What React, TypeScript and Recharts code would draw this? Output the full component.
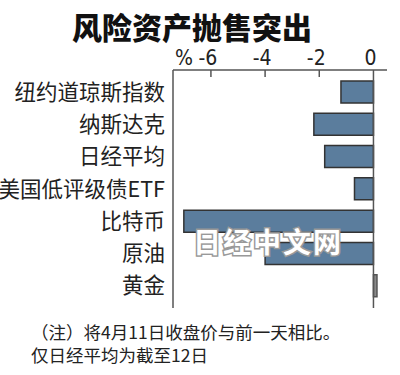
import React from "react";
import {
  BarChart,
  Bar,
  XAxis,
  YAxis,
  Cell,
  ReferenceLine,
} from "recharts";

// % change, close on Apr 11 vs previous day (Nikkei: Apr 12)
const assets = [
  "纽约道琼斯指数",
  "纳斯达克",
  "日经平均",
  "美国低评级债ETF",
  "比特币",
  "原油",
  "黄金",
];
const changes = [-1.2, -2.2, -1.8, -0.7, -7.0, -4.0, 0.13];
const xTicks = [-6, -4, -2, 0];

const title = "风险资产抛售突出";
const notes = ["（注）将4月11日收盘价与前一天相比。", "仅日经平均为截至12日"];
const watermark = "日经中文网";

const data = assets.map((name, i) => ({ name, value: changes[i] }));

const CJK = "'Noto Sans CJK SC', 'Noto Sans', sans-serif";
const NUM = "'Liberation Sans Narrow', 'DejaVu Sans Condensed', 'Liberation Sans', sans-serif";
const BLUE = "#5b7d9d";
const GREY = "#8a8a8a";

function TopTick(props: any) {
  const { x, y, payload, index } = props;
  const v = payload.value;
  return (
    <g>
      {v !== 0 && <line x1={x} y1={y} x2={x} y2={y + 7} stroke="#555" strokeWidth={1.5} />}
      <text x={x - 3} y={y - 5} textAnchor="middle" fontSize={21} fontFamily={NUM} fill="#222">
        {v}
      </text>
      {index === 0 && (
        <text x={x - 18} y={y - 5} textAnchor="end" fontSize={21} fontFamily={NUM} fill="#222">
          %
        </text>
      )}
    </g>
  );
}

function NameTick(props: any) {
  const { x, y, payload } = props;
  return (
    <text
      x={x}
      y={y - 2}
      textAnchor="end"
      dominantBaseline="central"
      fontSize={21.5}
      fontFamily={CJK}
      fill="#222"
    >
      {payload.value}
    </text>
  );
}

export default function App() {
  return (
    <div
      style={{
        position: "absolute",
        left: 0,
        top: 0,
        width: 400,
        height: 375,
        background: "#fff",
      }}
    >
      <BarChart
        width={400}
        height={375}
        data={data}
        layout="vertical"
        margin={{ top: 40, right: 13, bottom: 67, left: 0 }}
      >
        <XAxis
          type="number"
          orientation="top"
          domain={[-7.4, 0.5]}
          ticks={xTicks}
          height={30}
          axisLine={{ stroke: "#555", strokeWidth: 1.5 }}
          tickLine={false}
          tickSize={0}
          tickMargin={0}
          tick={<TopTick />}
          interval={0}
        />
        <YAxis
          type="category"
          dataKey="name"
          width={173}
          axisLine={{ stroke: "#555", strokeWidth: 1.5 }}
          tickLine={false}
          tickSize={0}
          tickMargin={8}
          padding={{ top: 6, bottom: 6 }}
          tick={<NameTick />}
          interval={0}
        />
        <Bar dataKey="value" barSize={22} isAnimationActive={false}>
          {data.map((d, i) => (
            <Cell
              key={i}
              fill={d.value < 0 ? BLUE : GREY}
              stroke={d.value < 0 ? "#333" : "#555"}
              strokeWidth={1.5}
            />
          ))}
        </Bar>
        <ReferenceLine x={0} stroke="#555" strokeWidth={1.5} ifOverflow="extendDomain" />
      </BarChart>
      <svg
        width={400}
        height={375}
        style={{ position: "absolute", left: 0, top: 0, pointerEvents: "none" }}
      >
        <text
          x={192}
          y={39}
          textAnchor="middle"
          fontSize={30}
          fontWeight={900}
          fontFamily={CJK}
          fill="#111"
        >
          {title}
        </text>
        <text
          x={268}
          y={253}
          textAnchor="middle"
          fontSize={28}
          fontWeight={700}
          fontFamily={CJK}
          fill="#fff"
          stroke="#999"
          strokeWidth={3}
          paintOrder="stroke"
          letterSpacing={2}
        >
          {watermark}
        </text>
        {notes.map((t, i) => (
          <text
            key={i}
            x={31}
            y={339 + i * 23}
            fontSize={17.5}
            fontFamily={CJK}
            fill="#222"
          >
            {t}
          </text>
        ))}
      </svg>
    </div>
  );
}
